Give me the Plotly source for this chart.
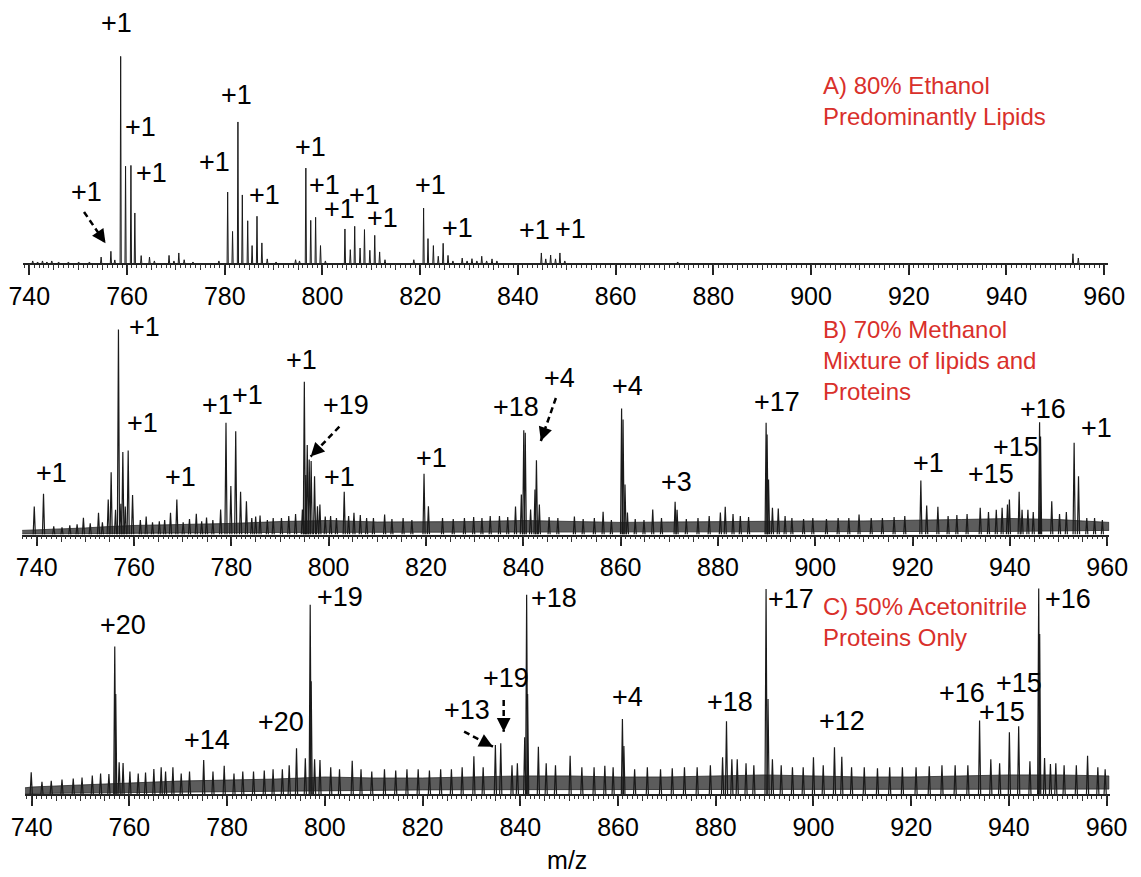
import math
import plotly.graph_objects as go

# ------------------------------------------------------------------ data
tick_values = [740, 760, 780, 800, 820, 840, 860, 880, 900, 920, 940, 960]
tick_labels = ["740", "760", "780", "800", "820", "840", "860", "880", "900", "920", "940", "960"]

# Panel A (80% ethanol): (m/z, relative intensity)
a_peaks = [(740.7, 1.0), (741.7, 0.5), (742.7, 1.0), (743.6, 0.5), (744.6, 1.0), (746.0, 0.5),
           (748.0, 0.5), (750.1, 0.5), (752.3, 0.5), (754.7, 2.9), (756.7, 5.7), (757.5, 1.5),
           (758.7, 100.8), (759.7, 47.2), (760.8, 47.6), (761.6, 24.4), (762.9, 3.6), (764.6, 2.9),
           (765.6, 1.0), (768.6, 3.7), (769.6, 1.0), (770.6, 4.9), (771.7, 1.6), (773.5, 0.5),
           (778.8, 1.0), (780.6, 34.6), (781.6, 15.4), (782.7, 68.8), (783.6, 33.2), (784.7, 20.6),
           (785.6, 8.5), (786.6, 22.8), (787.6, 9.8), (788.7, 2.0), (790.5, 0.5), (794.5, 1.6),
           (795.3, 1.0), (796.6, 46.3), (797.6, 20.8), (798.6, 22.3), (799.6, 8.5), (800.6, 1.0),
           (804.6, 16.6), (805.7, 6.5), (806.6, 17.9), (807.7, 7.3), (808.6, 16.3), (809.7, 6.2),
           (810.7, 13.5), (811.7, 5.4), (812.8, 1.6), (818.7, 1.6), (820.7, 26.8), (821.6, 11.9),
           (822.7, 8.5), (823.7, 3.3), (824.7, 9.6), (825.7, 3.7), (826.7, 1.0), (828.6, 2.4),
           (829.6, 1.0), (830.6, 2.1), (831.6, 1.0), (832.6, 3.3), (833.6, 1.0), (834.7, 2.0),
           (835.7, 1.0), (844.8, 4.9), (845.7, 2.0), (846.7, 3.9), (847.7, 2.0), (848.6, 4.9),
           (849.6, 1.0), (872.7, 0.5), (953.6, 4.5), (954.7, 2.4)]

# Panel B (70% methanol): main peaks and small noise spikes
b_peaks = [(739.5, 13.7), (741.4, 19.9), (749.6, 8.1), (752.7, 10.6), (754.7, 17.1), (755.3, 30.4),
           (756.2, 12.0), (756.8, 100.0), (757.3, 15.0), (757.7, 40.3), (758.2, 13.7), (758.8, 41.0),
           (759.7, 19.2), (762.5, 8.8), (767.5, 10.6), (768.8, 17.1), (772.8, 10.1), (774.9, 8.3),
           (777.8, 12.2), (778.9, 54.5), (779.9, 23.6), (780.9, 50.4), (781.9, 20.8), (783.1, 16.2),
           (785.0, 8.8), (785.9, 9.3), (794.6, 12.2), (795.0, 74.5), (795.3, 29.0), (795.6, 43.6),
           (796.0, 36.6), (796.4, 35.8), (797.1, 28.4), (797.7, 13.8), (798.2, 14.6), (799.3, 8.8),
           (803.2, 20.8), (805.2, 10.6), (811.5, 9.8), (819.6, 29.6), (820.5, 13.8), (838.4, 13.7),
           (839.6, 19.5), (840.1, 50.9), (840.4, 49.6), (841.5, 12.2), (842.4, 22.0), (842.7, 36.2),
           (843.3, 14.6), (850.5, 8.8), (856.4, 11.1), (860.2, 61.5), (860.5, 56.1), (860.9, 24.4),
           (861.4, 10.7), (866.6, 12.2), (871.2, 16.0), (871.6, 12.0), (880.5, 10.7), (881.5, 13.5),
           (889.9, 54.5), (890.1, 48.8), (890.4, 26.8), (891.2, 13.0), (892.4, 12.7), (909.0, 9.8),
           (921.7, 26.3), (922.9, 14.1), (925.2, 13.5), (933.9, 13.0), (939.5, 14.6), (939.9, 17.1),
           (941.9, 20.8), (942.5, 12.0), (946.1, 54.8), (946.3, 47.8), (948.6, 16.2), (953.2, 44.7),
           (954.1, 28.4)]
b_spikes = [(743.5, 4.0), (745.2, 3.5), (746.8, 4.5), (748.3, 5.0), (751.0, 5.5), (753.5, 6.0),
            (761.3, 7.0), (763.8, 6.0), (765.2, 6.5), (766.3, 7.0), (770.1, 6.0), (771.4, 7.5),
            (773.9, 6.5), (776.2, 7.0), (784.2, 8.0), (787.4, 7.0), (788.6, 8.0), (790.3, 8.0),
            (791.8, 9.0), (793.2, 10.0), (800.4, 9.0), (801.6, 8.0), (804.1, 9.0), (806.5, 9.5),
            (807.8, 8.0), (809.2, 8.0), (813.0, 7.5), (815.3, 8.0), (817.1, 7.0), (823.4, 8.0),
            (825.6, 7.5), (827.9, 8.0), (829.8, 8.5), (831.5, 8.0), (833.2, 9.0), (835.1, 9.0),
            (836.8, 8.5), (845.3, 8.5), (847.1, 8.0), (852.3, 7.5), (854.6, 8.0), (858.1, 7.0),
            (863.0, 7.5), (864.8, 7.0), (868.4, 8.0), (873.5, 7.5), (875.9, 8.0), (878.2, 9.0),
            (883.1, 10.0), (884.6, 9.0), (886.3, 8.5), (893.8, 9.0), (895.2, 8.0), (897.6, 7.5),
            (899.5, 8.0), (902.3, 7.5), (904.7, 8.0), (906.9, 8.0), (911.5, 8.0), (913.8, 8.0),
            (916.2, 8.5), (918.4, 9.0), (927.3, 9.0), (929.1, 9.5), (931.2, 10.0), (935.6, 11.0),
            (937.2, 12.0), (938.4, 13.0), (943.7, 12.0), (944.8, 11.0), (950.2, 10.0), (951.6, 11.0),
            (955.8, 8.0), (957.4, 8.0), (959.0, 7.0)]
b_noise_mz = [737.0, 740, 745, 750, 755, 760, 770, 780, 790, 800, 810, 820, 830, 840,
              850, 860, 870, 880, 890, 900, 910, 920, 930, 940, 950, 955, 960.4]
b_noise_hi = [2.0, 2.2, 2.7, 3.2, 3.9, 4.4, 4.9, 5.4, 6.3, 6.8, 6.1, 6.1, 6.3, 6.8,
              6.3, 5.9, 6.1, 6.3, 6.6, 6.6, 6.6, 6.8, 7.3, 7.8, 7.3, 6.6, 5.9]
b_noise_lo = [0.2, 0.3, 0.4, 0.5, 0.6, 0.7, 0.8, 0.9, 1.0, 1.1, 1.2, 1.2, 1.2, 1.2,
              1.2, 1.3, 1.3, 1.3, 1.3, 1.4, 1.4, 1.4, 1.5, 1.5, 1.6, 1.8, 2.0]

# Panel C (50% acetonitrile)
c_peaks = [(739.9, 10.6), (755.8, 9.8), (757.0, 72.0), (757.2, 48.8), (757.9, 15.5), (758.7, 15.1),
           (765.0, 12.2), (766.5, 13.0), (768.9, 13.0), (775.2, 16.6), (779.4, 13.8), (794.2, 22.3),
           (796.0, 17.4), (797.0, 92.3), (797.2, 55.0), (797.9, 17.0), (799.0, 16.6), (805.6, 16.2),
           (830.5, 18.4), (834.9, 23.9), (836.0, 24.7), (840.9, 27.7), (841.3, 97.2), (841.5, 48.8),
           (843.7, 23.1), (850.2, 18.7), (857.3, 13.8), (860.9, 36.6), (861.2, 23.4), (881.4, 17.9),
           (882.2, 35.5), (883.3, 17.0), (884.4, 17.0), (890.3, 100.0), (890.7, 46.3), (891.6, 17.0),
           (900.0, 17.9), (904.3, 22.8), (905.8, 18.2), (934.0, 35.8), (936.3, 17.0), (940.1, 30.1),
           (942.0, 33.0), (946.1, 100.3), (946.3, 78.0), (947.3, 17.6), (948.5, 14.6), (956.1, 18.7)]
c_spikes = [(742.1, 6.0), (744.0, 6.5), (746.2, 7.0), (748.5, 7.5), (750.3, 8.0), (752.4, 9.0),
            (754.1, 10.0), (760.1, 11.0), (761.8, 10.0), (763.3, 10.5), (767.4, 11.0), (770.6, 10.0),
            (772.3, 11.0), (777.1, 11.0), (781.4, 10.0), (783.2, 11.0), (785.4, 11.0), (787.6, 11.5),
            (789.4, 12.0), (791.3, 12.0), (792.7, 14.0), (801.2, 13.0), (803.0, 12.0), (807.4, 12.0),
            (809.6, 11.0), (812.2, 12.0), (814.5, 11.5), (816.8, 12.0), (819.1, 12.0), (821.4, 11.5),
            (823.7, 12.0), (825.9, 12.0), (828.1, 13.0), (832.4, 13.0), (838.3, 14.0), (839.4, 15.0),
            (845.3, 15.0), (847.2, 14.0), (852.6, 13.0), (855.1, 13.0), (859.0, 13.0), (863.4, 12.0),
            (866.0, 13.0), (868.7, 12.0), (871.1, 12.5), (873.6, 13.0), (876.2, 13.0), (878.9, 14.0),
            (886.2, 15.0), (887.8, 14.0), (893.4, 14.0), (895.7, 13.0), (897.9, 13.0), (902.0, 14.0),
            (907.8, 13.0), (910.4, 13.0), (913.1, 12.5), (915.6, 13.0), (918.2, 13.0), (921.0, 13.0),
            (923.7, 13.5), (926.3, 14.0), (929.0, 14.0), (931.6, 14.0), (938.1, 15.0), (944.3, 16.0),
            (949.6, 15.0), (951.3, 14.0), (953.8, 14.0), (958.2, 13.0), (959.7, 12.0)]
c_noise_mz = [738.6, 740, 750, 760, 770, 780, 790, 800, 810, 820, 830, 840, 850,
              860, 870, 880, 890, 900, 910, 920, 930, 940, 950, 960.5]
c_noise_hi = [3.0, 3.4, 4.4, 5.4, 6.3, 6.8, 7.3, 8.3, 7.8, 7.8, 8.3, 8.8, 8.8,
              8.3, 8.3, 8.8, 9.3, 8.8, 8.3, 8.3, 8.8, 9.3, 9.3, 8.8]
c_noise_lo = [0.2, 0.3, 0.5, 0.8, 1.0, 1.2, 1.5, 1.7, 1.8, 2.0, 2.1, 2.3, 2.4,
              2.4, 2.4, 2.4, 2.4, 2.4, 2.4, 2.4, 2.4, 2.4, 2.4, 2.4]

# Charge-state labels: (text, m/z, intensity)
a_labels = [("+1", 757.9, 117.3), ("+1", 762.7, 66.5), ("+1", 765.1, 44.0), ("+1", 782.4, 82.0),
            ("+1", 777.9, 49.4), ("+1", 788.2, 33.2), ("+1", 797.5, 56.7), ("+1", 800.4, 38.0),
            ("+1", 803.4, 26.3), ("+1", 808.7, 33.2), ("+1", 812.2, 21.8), ("+1", 822.2, 38.0),
            ("+1", 827.7, 16.9), ("+1", 843.3, 16.1), ("+1", 850.7, 16.6), ("+1", 751.7, 34.8)]
b_labels = [("+1", 743.1, 29.9), ("+1", 762.2, 101.4), ("+1", 761.8, 54.2), ("+1", 769.5, 28.2),
            ("+1", 777.1, 63.2), ("+1", 783.3, 68.0), ("+1", 794.5, 85.1), ("+19", 803.5, 63.2),
            ("+1", 802.3, 28.2), ("+1", 821.2, 37.2), ("+18", 838.6, 62.3), ("+4", 847.5, 76.3),
            ("+4", 861.4, 72.4), ("+3", 871.5, 25.8), ("+17", 892.1, 64.4), ("+1", 923.2, 34.9),
            ("+15", 936.1, 29.5), ("+15", 941.2, 42.8), ("+16", 946.9, 61.2), ("+1", 957.7, 52.0)]
c_labels = [("+20", 758.7, 82.4), ("+19", 803.1, 96.2), ("+14", 775.9, 26.3), ("+20", 791.1, 34.9),
            ("+13", 829.1, 41.0), ("+19", 837.1, 56.8), ("+18", 846.9, 95.6), ("+4", 862.0, 47.5),
            ("+18", 883.0, 45.0), ("+17", 895.5, 95.1), ("+12", 905.8, 35.7), ("+16", 930.4, 49.5),
            ("+15", 942.1, 54.1), ("+15", 938.5, 39.8), ("+16", 952.0, 95.1)]

# Dashed arrows: (tail m/z, tail intensity, head m/z, head intensity)
a_arrows = [(751.2, 24.9, 755.6, 9.6)]
b_arrows = [(802.2, 52.6, 796.3, 38.0), (846.7, 66.6, 843.6, 45.6)]
c_arrows = [(828.5, 30.4, 834.4, 23.1), (836.6, 45.9, 836.6, 30.4)]

# Panel captions: (text, m/z, intensity)
a_caption = ("A) 80% Ethanol<br>Predominantly Lipids", 902.0, 79.0)
b_caption = ("B) 70% Methanol<br>Mixture of lipids and<br>Proteins", 901.2, 85.1)
c_caption = ("C) 50% Acetonitrile<br>Proteins Only", 901.5, 84.1)

# ------------------------------------------------------------------ layout constants
W, H = 1141, 877
SY = 2.05  # pixels per intensity unit
FONT = "Arial, 'Liberation Sans', Helvetica, sans-serif"
RED = "#d9302b"

panels = [
    dict(peaks=a_peaks, spikes=[], hw=0.12, lw=1.0, noise=None, labels=a_labels, arrows=a_arrows,
         caption=a_caption, lo=738.8, hi=960.8, px740=29.3, sx=4.886, axis_py=263.0, top_py=0.0),
    dict(peaks=b_peaks, spikes=b_spikes, hw=0.22, lw=1.2, noise=(b_noise_mz, b_noise_hi, b_noise_lo),
         labels=b_labels, arrows=b_arrows, caption=b_caption,
         lo=737.0, hi=960.4, px740=36.7, sx=4.866, axis_py=534.5, top_py=300.0),
    dict(peaks=c_peaks, spikes=c_spikes, hw=0.22, lw=1.2, noise=(c_noise_mz, c_noise_hi, c_noise_lo),
         labels=c_labels, arrows=c_arrows, caption=c_caption,
         lo=738.6, hi=960.6, px740=31.7, sx=4.886, axis_py=794.0, top_py=560.0),
]

fig = go.Figure()
annotations = []
shapes = []
layout = {}

for i, p in enumerate(panels, start=1):
    sfx = "" if i == 1 else str(i)
    xa, ya = "x" + sfx, "y" + sfx
    ov = "x" + str(i + 3)

    # noise band
    if p["noise"] is not None:
        nm, nh, nl = p["noise"]
        fig.add_trace(go.Scatter(
            x=list(nm) + list(nm)[::-1], y=list(nh) + list(nl)[::-1],
            fill="toself", fillcolor="#5c5c5c", mode="lines",
            line=dict(color="#2a2a2a", width=0.8),
            xaxis=xa, yaxis=ya, hoverinfo="skip", showlegend=False))

    # peaks drawn as narrow sticks
    xs, ys = [], []
    hw = p["hw"]
    for m, h in sorted(p["peaks"] + p["spikes"]):
        xs += [m - hw, m, m + hw, None]
        ys += [0, h, 0, None]
    fig.add_trace(go.Scatter(x=xs, y=ys, mode="lines",
                             line=dict(color="#1a1a1a", width=p["lw"]),
                             xaxis=xa, yaxis=ya, hoverinfo="skip", showlegend=False))
    # invisible trace for the medium-tick overlay axis
    fig.add_trace(go.Scatter(x=[p["lo"]], y=[0], mode="markers", marker=dict(opacity=0),
                             xaxis=ov, yaxis=ya, hoverinfo="skip", showlegend=False))

    left = p["px740"] + (p["lo"] - 740) * p["sx"]
    right = p["px740"] + (p["hi"] - 740) * p["sx"]
    xdom = [left / W, right / W]
    ydom = [1 - p["axis_py"] / H, 1 - p["top_py"] / H]
    ytop = (p["axis_py"] - p["top_py"]) / SY

    layout["xaxis" + sfx] = dict(
        domain=xdom, range=[p["lo"], p["hi"]], anchor=ya, automargin=False,
        showline=True, linecolor="#222", linewidth=1.5,
        ticks="outside", tickmode="array", tickvals=tick_values, ticktext=tick_labels,
        ticklen=10, tickwidth=1.5, tickcolor="#222",
        tickfont=dict(family=FONT, size=25, color="black"),
        minor=dict(tickmode="linear", tick0=740, dtick=1, ticks="outside",
                   ticklen=3, tickwidth=1, tickcolor="#333", showgrid=False),
        showgrid=False, zeroline=False, fixedrange=True)
    layout["xaxis" + str(i + 3)] = dict(
        overlaying=xa, anchor=ya, range=[p["lo"], p["hi"]], automargin=False,
        tickmode="linear", tick0=740, dtick=5, ticks="outside", ticklen=6,
        tickwidth=1, tickcolor="#333", showticklabels=False, showline=False,
        showgrid=False, zeroline=False, fixedrange=True)
    layout["yaxis" + sfx] = dict(domain=ydom, range=[0, ytop], visible=False,
                                 automargin=False, fixedrange=True)

    # charge labels
    for txt, m, h in p["labels"]:
        annotations.append(dict(text=txt, x=m, y=h, xref=xa, yref=ya, showarrow=False,
                                xanchor="center", yanchor="middle",
                                font=dict(family=FONT, size=27, color="black")))
    # dashed arrows
    for tm, th, hm, hh in p["arrows"]:
        shapes.append(dict(type="line", xref=xa, yref=ya, x0=tm, y0=th, x1=hm, y1=hh,
                           line=dict(color="black", width=2.5, dash="6px,4px")))
        dx = (tm - hm) * p["sx"]
        dy = -(th - hh) * SY
        L = math.hypot(dx, dy)
        annotations.append(dict(text="", x=hm, y=hh, xref=xa, yref=ya, showarrow=True,
                                ax=dx / L * 12, ay=dy / L * 12, arrowhead=2, arrowsize=1.1,
                                arrowwidth=2.5, arrowcolor="black", standoff=0))
    # caption
    ctext, cm, ch = p["caption"]
    annotations.append(dict(text=ctext, x=cm, y=ch, xref=xa, yref=ya, showarrow=False,
                            xanchor="left", yanchor="middle", align="left",
                            font=dict(family=FONT, size=24, color=RED)))

layout["xaxis3"]["title"] = dict(text="m/z", font=dict(family=FONT, size=25, color="black"),
                                 standoff=12)

fig.update_layout(
    template="none",
    width=W, height=H, margin=dict(l=0, r=0, t=0, b=0, pad=0, autoexpand=False),
    font=dict(family=FONT, color="black"),
    paper_bgcolor="white", plot_bgcolor="white", showlegend=False,
    hovermode=False, annotations=annotations, shapes=shapes, **layout)

fig.write_html("out.html", config={"displayModeBar": False},
               post_script="document.body.style.margin='0';document.body.style.overflow='hidden';")
